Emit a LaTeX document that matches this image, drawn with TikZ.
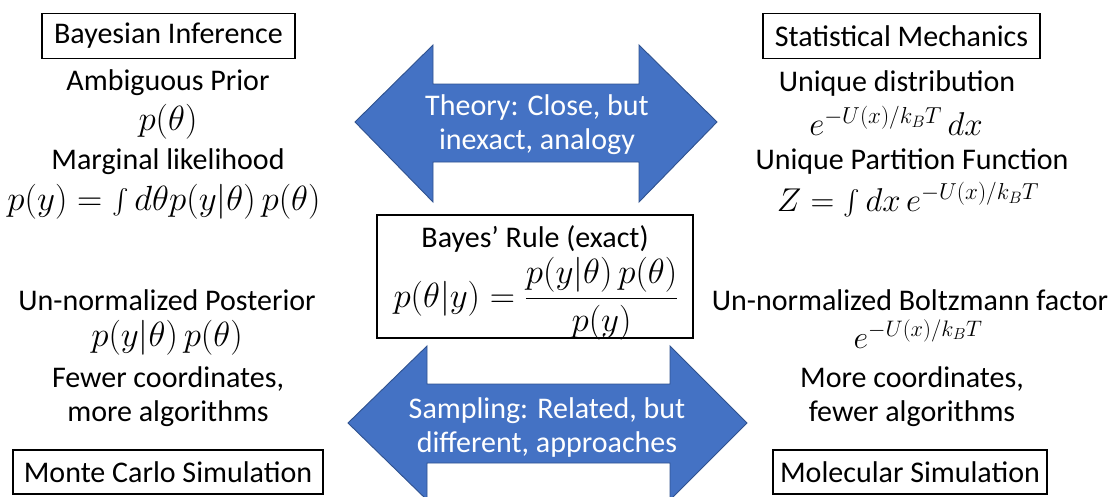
\RequirePackage{fix-cm}
\documentclass[tikz,border=0pt]{standalone}
\usepackage{amsmath}
\usepackage{fontspec}
\setmainfont{Carlito}
\usetikzlibrary{positioning}
\definecolor{arrowblue}{HTML}{4472C4}
\definecolor{arrowedge}{HTML}{2F528F}

\begin{document}
\begin{tikzpicture}[
      x=1pt, y=-1pt,
      txt/.style={
        align=center,
        inner sep=0pt,
        font=\fontsize{30}{34}\selectfont,
      },
      eq/.style={
        txt,
        font=\fontsize{35}{40}\selectfont,
      },
      expeq/.style={
        txt,
        font=\fontsize{33}{38}\selectfont,
      },
      titlebox/.style={
        txt,
        draw,
        line width=1.1pt,
        minimum height=45pt,
      },
      bigarrow/.style={
        fill=arrowblue,
        draw=arrowedge,
        line width=0.9pt,
      },
      arrowtext/.style={
        txt,
        text=white,
      }
    ]
      \useasboundingbox (0,0) rectangle (1114,496);

      % the two double arrows
      \draw[bigarrow] (355,122) -- (433,45) -- (433,84) -- (639,84) -- (639,45)
        -- (717,122) -- (639,202) -- (639,162) -- (433,162) -- (433,202) -- cycle;
      \draw[bigarrow] (348,423) -- (427,346) -- (427,384) -- (670,384) -- (670,346)
        -- (747,423) -- (670,500) -- (670,463) -- (427,463) -- (427,500) -- cycle;
      \node[arrowtext] (theory) at (537,125) {Theory: Close, but\\inexact, analogy};
      \node[arrowtext] (sampling) at (547,427) {Sampling: Related, but\\different, approaches};

      % headings
      \node[titlebox, minimum width=253pt] (bayes) at (168.5,36) {Bayesian Inference};
      \node[titlebox, minimum width=277pt] (statmech) at (901.5,36) {Statistical Mechanics};
      \node[titlebox, minimum width=310pt, minimum height=44pt] (mc) at (168,472) {Monte Carlo Simulation};
      \node[titlebox, minimum width=274pt, minimum height=44pt] (md) at (910,472) {Molecular Simulation};

      % exact link in the middle
      \node[draw, line width=1.1pt, minimum width=316pt, minimum height=123pt] (rule) at (535,276.5) {};
      \node[txt] (ruletitle) at (535,239) {Bayes’ Rule (exact)};
      \node[eq] (ruleeq) at (536,299) {$p(\theta|y) = \dfrac{p(y|\theta)\,p(\theta)}{p(y)}$};

      % bayesian side
      \node[txt] (prior) at (168,83) {Ambiguous Prior};
      \node[eq] (priorEq) at (168,122) {$p(\theta)$};
      \node[txt] (marg) at (168,162) {Marginal likelihood};
      \node[eq] (margEq) at (164,202) {$p(y) = \textstyle\int d\theta p(y|\theta)\,p(\theta)$};
      \node[txt] (post) at (167,300) {Un-normalized Posterior};
      \node[eq] (postEq) at (167,338) {$p(y|\theta)\,p(\theta)$};
      \node[txt] (fewer) at (168,397) {Fewer coordinates,\\more algorithms};

      % statistical mechanics side
      \node[txt] (dist) at (897,83) {Unique distribution};
      \node[expeq] (distEq) at (896,121) {$e^{-U(x)/k_BT}\,dx$};
      \node[txt] (part) at (912,162) {Unique Partition Function};
      \node[expeq] (partEq) at (908,200) {$Z = \textstyle\int dx\, e^{-U(x)/k_BT}$};
      \node[txt] (boltz) at (910,300) {Un-normalized Boltzmann factor};
      \node[expeq, font=\fontsize{32}{36}\selectfont] (boltzEq) at (918,334) {$e^{-U(x)/k_BT}$};
      \node[txt] (more) at (912,397) {More coordinates,\\fewer algorithms};
    \end{tikzpicture}
\end{document}
